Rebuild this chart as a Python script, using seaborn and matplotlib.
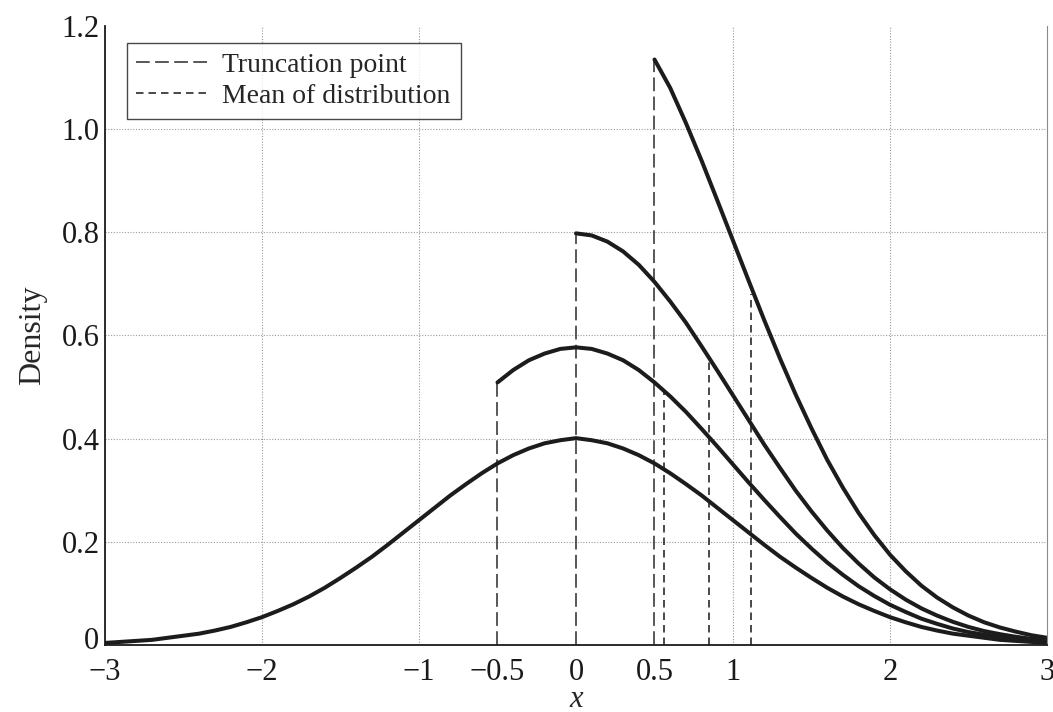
import numpy as np
import pandas as pd
import seaborn as sns
import matplotlib.pyplot as plt
import matplotlib.transforms as mtransforms
from matplotlib.lines import Line2D

# Set seaborn style first, then fonts (set_style resets font.family)
sns.set_style("white")
plt.rcParams['font.family'] = ['Liberation Serif', 'DejaVu Serif']
plt.rcParams['axes.unicode_minus'] = True

x_grid = [-3.0, -2.9, -2.8, -2.7, -2.6, -2.5, -2.4, -2.3, -2.2, -2.1,
          -2.0, -1.9, -1.8, -1.7, -1.6, -1.5, -1.4, -1.3, -1.2, -1.1,
          -1.0, -0.9, -0.8, -0.7, -0.6, -0.5, -0.4, -0.3, -0.2, -0.1,
          0.0, 0.1, 0.2, 0.3, 0.4, 0.5, 0.6, 0.7, 0.8, 0.9,
          1.0, 1.1, 1.2, 1.3, 1.4, 1.5, 1.6, 1.7, 1.8, 1.9,
          2.0, 2.1, 2.2, 2.3, 2.4, 2.5, 2.6, 2.7, 2.8, 2.9, 3.0]

# untruncated density (-3 .. 3)
dens_full = [0.004, 0.006, 0.008, 0.010, 0.014, 0.018, 0.022, 0.028, 0.035, 0.044,
             0.054, 0.066, 0.079, 0.094, 0.111, 0.130, 0.150, 0.171, 0.194, 0.218,
             0.242, 0.266, 0.290, 0.312, 0.333, 0.352, 0.368, 0.381, 0.391, 0.397,
             0.401, 0.397, 0.391, 0.381, 0.368, 0.352, 0.333, 0.312, 0.290, 0.266,
             0.242, 0.218, 0.194, 0.171, 0.150, 0.130, 0.111, 0.094, 0.079, 0.066,
             0.054, 0.044, 0.035, 0.028, 0.022, 0.018, 0.014, 0.010, 0.008, 0.006, 0.004]

# truncated at -0.5 (-0.5 .. 3)
dens_trunc_m05 = [0.509, 0.533, 0.552, 0.565, 0.574, 0.577, 0.574, 0.565, 0.552, 0.533,
                  0.509, 0.482, 0.452, 0.419, 0.385, 0.350, 0.315, 0.281, 0.248, 0.216,
                  0.187, 0.160, 0.136, 0.114, 0.095, 0.078, 0.064, 0.051, 0.041, 0.032,
                  0.025, 0.020, 0.015, 0.011, 0.009, 0.006]

# truncated at 0 (0 .. 3)
dens_trunc_0 = [0.798, 0.794, 0.782, 0.763, 0.737, 0.704, 0.666, 0.625, 0.579, 0.532,
                0.484, 0.436, 0.388, 0.343, 0.299, 0.259, 0.222, 0.188, 0.158, 0.131,
                0.108, 0.088, 0.071, 0.057, 0.045, 0.035, 0.027, 0.021, 0.016, 0.012, 0.009]

# truncated at 0.5 (0.5 .. 3)
dens_trunc_05 = [1.135, 1.080, 1.012, 0.939, 0.862, 0.784, 0.706, 0.629, 0.555, 0.485,
                 0.420, 0.359, 0.305, 0.256, 0.213, 0.175, 0.143, 0.115, 0.092, 0.073,
                 0.057, 0.044, 0.034, 0.026, 0.019, 0.014]

# dashed markers: truncation points and distribution means
trunc_points = [-0.5, 0.0, 0.5]
trunc_heights = [0.509, 0.798, 1.135]
mean_points = [0.56, 0.845, 1.115]
mean_heights = [0.49, 0.56, 0.68]

x_ticks = [-3, -2, -1, -0.5, 0, 0.5, 1, 2, 3]
x_ticklabels = ["\u22123", "\u22122", "\u22121", "\u22120.5", "0", "0.5", "1", "2", "3"]
y_ticks = [0, 0.2, 0.4, 0.6, 0.8, 1.0, 1.2]
y_ticklabels = ["0", "0.2", "0.4", "0.6", "0.8", "1.0", "1.2"]
grid_x = [-2, -1, 1, 2]
grid_y = [0.2, 0.4, 0.6, 0.8, 1.0]

curves = pd.concat([
    pd.DataFrame({"x": x_grid, "density": dens_full, "curve": "full"}),
    pd.DataFrame({"x": x_grid[25:], "density": dens_trunc_m05, "curve": "t-0.5"}),
    pd.DataFrame({"x": x_grid[30:], "density": dens_trunc_0, "curve": "t0"}),
    pd.DataFrame({"x": x_grid[35:], "density": dens_trunc_05, "curve": "t0.5"}),
])

fig = plt.figure(figsize=(10.53, 7.12), dpi=100)
ax = fig.add_axes([0.0997, 0.0941, 0.8946, 0.8694])

# dotted grid (only at selected positions like the original)
for gx in grid_x:
    ax.axvline(gx, color="#9a9a9a", lw=0.8, ls=(0, (1, 1.5)), zorder=0)
for gy in grid_y:
    ax.axhline(gy, color="#9a9a9a", lw=0.8, ls=(0, (1, 1.5)), zorder=0)

trunc_dash = (0, (9, 3.5))
mean_dash = (0, (4.5, 3))
ax.vlines(trunc_points, 0, trunc_heights, colors="#2a2a2a", lw=1.1, linestyles=[trunc_dash])
ax.vlines(mean_points, 0, mean_heights, colors="#2a2a2a", lw=1.2, linestyles=[mean_dash])

sns.lineplot(data=curves, x="x", y="density", units="curve", estimator=None,
             color="#1c1c1c", lw=2.9, ax=ax, legend=False, sort=False)

ax.set_xlim(-3, 3)
ax.set_ylim(0, 1.2)
ax.set_xticks(x_ticks)
ax.set_xticklabels(x_ticklabels)
ax.set_yticks(y_ticks)
ax.set_yticklabels(y_ticklabels)
ax.tick_params(direction="in", length=8, width=1, labelsize=22, colors="#1a1a1a")
ax.tick_params(axis="x", pad=9)
ax.tick_params(axis="y", pad=4)

# lift the "0" y label a little so it clears the "-3" below it
zero_lbl = ax.get_yticklabels()[0]
zero_lbl.set_transform(zero_lbl.get_transform() +
                       mtransforms.ScaledTranslation(0, 5 / 72, fig.dpi_scale_trans))

for side in ["left", "bottom"]:
    ax.spines[side].set_color("#1a1a1a")
    ax.spines[side].set_linewidth(1.3)
ax.spines["top"].set_visible(False)
ax.spines["right"].set_color("#8a8a8a")
ax.spines["right"].set_linewidth(0.8)

ax.set_xlabel("x", fontsize=22, style="italic", labelpad=-1)
ax.set_ylabel("Density", fontsize=23, labelpad=10)

handles = [
    Line2D([], [], color="#2a2a2a", lw=1.1, ls=trunc_dash),
    Line2D([], [], color="#2a2a2a", lw=1.2, ls=mean_dash),
]
leg = ax.legend(handles, ["Truncation point", "Mean of distribution"],
                loc="upper left", bbox_to_anchor=(0.023, 0.973), borderaxespad=0,
                fontsize=20, handlelength=2.7, handletextpad=0.4,
                frameon=True, fancybox=False, edgecolor="#1a1a1a",
                borderpad=0.35, labelspacing=0.2)
leg.get_frame().set_linewidth(1.0)

fig.savefig("out.png", dpi=100, facecolor="white")
